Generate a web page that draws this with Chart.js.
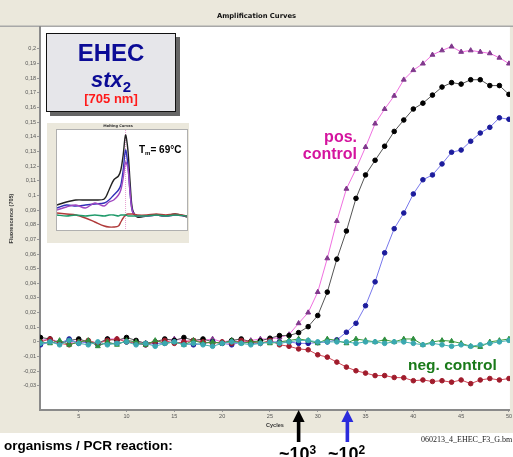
<!DOCTYPE html>
<html>
<head>
<meta charset="utf-8">
<script src="https://cdn.jsdelivr.net/npm/chart.js@4"></script>
<style>
  body { margin: 0; width: 513px; height: 457px; overflow: hidden; position: relative; background: #fff; font-family: "Liberation Sans", Arial, sans-serif; }
  #main { position: absolute; left: 0; top: 0; }
  .txt { position: absolute; white-space: nowrap; font-weight: bold; }
  #title { position: absolute; left: 0; width: 513px; top: 12px; text-align: center; font: bold 6.8px "DejaVu Sans"; line-height: 8px; color: #111; }
  #box { position: absolute; left: 46px; top: 33px; width: 128px; height: 77px; border: 1.5px solid #111; background: #e6e6ea; box-shadow: 4px 4px 0 #666; }
  #box div { position: absolute; left: 0; width: 100%; text-align: center; font-weight: bold; white-space: nowrap; }
  #inset { position: absolute; left: 47px; top: 123px; width: 142px; height: 120px; }
</style>
</head>
<body>
<canvas id="main" width="513" height="457"></canvas>
<div id="title">Amplification Curves</div>

<div id="box">
  <div style="top:7px; font-size:24px; line-height:24px; color:#0b0b96;">EHEC</div>
  <div style="top:35px; font-size:22px; line-height:22px; color:#0b0b96; font-style:italic;">stx<span style="font-size:15px; position:relative; top:5px; font-style:normal;">2</span></div>
  <div style="top:58px; font-size:13px; line-height:13px; color:#ff1a1a;">[705 nm]</div>
</div>

<div id="inset">
  <canvas id="melt" width="142" height="120"></canvas>
  <div style="position:absolute; left:0; width:142px; top:1px; text-align:center; font:bold 3.5px 'DejaVu Sans'; color:#333;">Melting Curves</div>
</div>
<div class="txt" style="left:139px; top:144px; font-size:10px; line-height:12px; color:#000;">T<span style="font-size:6px; position:relative; top:2px;">m</span>= 69°C</div>

<div class="txt" style="right:156px; top:128px; font-size:16px; line-height:17px; color:#d4149e; text-align:right;">pos.<br>control</div>
<div class="txt" style="left:408px; top:357px; font-size:15.5px; line-height:16px; color:#1a7a1a;">neg. control</div>

<div class="txt" style="left:4px; top:439px; font-size:13.5px; line-height:14px; color:#000;">organisms / PCR reaction:</div>
<div class="txt" style="left:279px; top:445px; font-size:18px; line-height:18px; color:#000;">~10<span style="font-size:12px; position:relative; top:-6px;">3</span></div>
<div class="txt" style="left:328px; top:445px; font-size:18px; line-height:18px; color:#000;">~10<span style="font-size:12px; position:relative; top:-6px;">2</span></div>
<div class="txt" style="left:421px; top:435px; font:8px 'Liberation Serif'; color:#222;">060213_4_EHEC_F3_G.bm</div>

<script>
// cycles 1..50
const cycles = [1,2,3,4,5,6,7,8,9,10,11,12,13,14,15,16,17,18,19,20,21,22,23,24,25,26,27,28,29,30,31,32,33,34,35,36,37,38,39,40,41,42,43,44,45,46,47,48,49,50];

const posControl = [0.001,0.002,0.000,-0.001,0.001,0.000,-0.001,0.002,0.002,0.001,0.000,-0.001,0.000,0.001,0.002,0.001,0.000,0.001,0.002,0.000,0.001,0.000,0.001,0.002,0.002,0.003,
  0.005,0.0127,0.020,0.034,0.057,0.0825,0.1045,0.118,0.133,0.149,0.159,0.168,0.179,0.1855,0.190,0.196,0.199,0.2016,0.198,0.199,0.198,0.197,0.194,0.190];

const sample1e3 = [0.003,0.002,-0.001,0.001,0.002,0.000,-0.001,0.002,0.001,0.003,0.001,-0.001,0.000,0.002,0.001,0.003,0.001,0.002,0.000,-0.001,0.001,0.002,0.000,
  0.0007,0.0025,0.0043,0.0043,0.0063,0.0104,0.018,0.034,0.0565,0.0757,0.098,0.114,0.124,0.1336,0.1437,0.1515,0.159,0.163,0.1685,0.174,0.177,0.176,0.179,0.179,0.175,0.175,0.169];

const sample1e2 = [-0.002,0.000,-0.001,0.002,-0.001,0.000,-0.002,-0.001,-0.001,0.000,-0.001,-0.002,-0.001,-0.001,0.000,-0.001,-0.002,-0.001,0.000,-0.001,-0.002,0.000,-0.001,-0.001,0.000,0.000,0.000,-0.001,-0.001,
  -0.0005,0.0,0.0014,0.0066,0.0127,0.0247,0.041,0.0608,0.0773,0.088,0.101,0.1107,0.114,0.1215,0.1295,0.131,0.137,0.1426,0.1465,0.153,0.152];

const redSample = [0.000,0.002,-0.001,-0.002,0.000,0.001,-0.001,0.001,0.002,0.000,-0.001,-0.002,0.000,0.001,-0.001,0.000,0.001,0.000,-0.001,0.000,-0.001,0.001,0.000,-0.001,0.001,-0.002,
  -0.003,-0.0048,-0.0054,-0.0088,-0.0104,-0.0138,-0.0172,-0.0197,-0.0213,-0.023,-0.023,-0.0243,-0.0245,-0.0265,-0.026,-0.027,-0.0265,-0.0275,-0.026,-0.0285,-0.026,-0.025,-0.026,-0.025];

const tealSample = [-0.001,0.000,-0.002,0.001,-0.001,-0.002,0.000,-0.002,-0.001,0.000,-0.002,-0.001,-0.003,-0.001,0.000,-0.002,-0.001,-0.002,-0.003,-0.001,0.000,-0.001,-0.002,-0.001,0.000,
  -0.001,0.000,0.001,0.001,0.000,0.000,0.000,0.000,-0.001,0.000,0.000,-0.001,0.000,0.000,-0.001,-0.002,-0.001,-0.002,-0.003,-0.002,-0.003,-0.002,-0.001,0.000,0.001];

const negControl = [0.000,-0.001,0.001,-0.002,0.000,0.001,-0.003,0.000,-0.002,0.001,0.000,-0.002,0.001,-0.001,0.000,-0.002,0.001,-0.001,0.000,-0.001,0.001,-0.001,0.000,0.000,-0.001,
  0.000,0.001,0.002,0.001,-0.001,0.002,0.001,-0.001,0.002,0.001,0.000,0.0015,0.000,0.002,0.002,-0.002,0.000,0.001,0.0005,-0.001,-0.003,-0.0035,0.000,0.001,0.002];

const yTicks = [0.2,0.19,0.18,0.17,0.16,0.15,0.14,0.13,0.12,0.11,0.1,0.09,0.08,0.07,0.06,0.05,0.04,0.03,0.02,0.01,0,-0.01,-0.02,-0.03];
const xTicks = [5,10,15,20,25,30,35,40,45,50];

// arrows under the x axis: Ct of the two dilutions
const arrowCycles = [28.0, 33.1];
const arrowColors = ["#000000", "#2b2bdc"];

// inset: melting curves
const meltTemps = [40,44,48,52,56,60,62,64,66,67,68,69,70,71,72,74,78,82,86,90,95];
const meltBlack = [0.25,0.28,0.30,0.30,0.30,0.31,0.40,0.50,0.54,0.60,0.75,0.95,0.80,0.45,0.20,0.13,0.14,0.15,0.14,0.16,0.13];
const meltBlue = [0.22,0.25,0.24,0.25,0.26,0.27,0.30,0.35,0.40,0.45,0.60,0.80,0.65,0.35,0.18,0.14,0.14,0.15,0.14,0.15,0.14];
const meltPurple = [0.20,0.23,0.25,0.22,0.27,0.24,0.28,0.30,0.35,0.40,0.52,0.68,0.62,0.35,0.18,0.14,0.14,0.15,0.14,0.15,0.14];
const meltGreen = [0.15,0.14,0.15,0.14,0.15,0.14,0.15,0.15,0.14,0.15,0.15,0.15,0.14,0.14,0.14,0.14,0.14,0.15,0.14,0.15,0.14];
const meltRed = [0.17,0.16,0.15,0.12,0.08,0.04,0.03,0.03,0.04,0.08,0.12,0.15,0.16,0.16,0.16,0.15,0.15,0.16,0.15,0.16,0.14];
const meltTm = 69;

function pts(xs, ys) {
  return xs.map((x, i) => ({ x: x, y: ys[i] }));
}

function series(label, values, line, marker, style) {
  return {
    label: label,
    data: pts(cycles, values),
    borderColor: line,
    borderWidth: 1,
    pointBackgroundColor: marker,
    pointBorderColor: marker,
    pointBorderWidth: 1,
    pointStyle: style,
    pointRadius: style === "triangle" ? 2.8 : 2.3,
    tension: 0
  };
}

const backdrop = {
  id: "backdrop",
  beforeDraw(chart) {
    const ctx = chart.ctx, a = chart.chartArea;
    ctx.save();
    ctx.fillStyle = "#ebe8dc";
    ctx.fillRect(0, 0, chart.width, 433);
    ctx.fillStyle = "#ffffff";
    ctx.fillRect(0, 433, chart.width, chart.height - 433);
    ctx.fillRect(a.left, a.top, a.right - a.left, a.bottom - a.top);
    ctx.fillStyle = "#a8a8a8";
    ctx.fillRect(0, a.top - 1.5, chart.width, 1.5);
    ctx.restore();
  }
};

const arrows = {
  id: "arrows",
  afterDraw(chart) {
    const ctx = chart.ctx, xs = chart.scales.x;
    ctx.save();
    arrowCycles.forEach((c, i) => {
      const x = xs.getPixelForValue(c);
      ctx.fillStyle = arrowColors[i];
      ctx.beginPath();
      ctx.moveTo(x, 410);
      ctx.lineTo(x - 6, 422);
      ctx.lineTo(x + 6, 422);
      ctx.closePath();
      ctx.fill();
      ctx.fillRect(x - 1.8, 421, 3.6, 21);
    });
    ctx.restore();
  }
};

new Chart(document.getElementById("main"), {
  type: "line",
  data: {
    datasets: [
      series("teal", tealSample, "#49b3b3", "#3aa8b0", "circle"),
      series("neg. control", negControl, "#3c9c3c", "#2f8f3f", "triangle"),
      series("red", redSample, "#d04858", "#a01c2c", "circle"),
      series("~10^2", sample1e2, "#7878ec", "#1c1c9c", "circle"),
      series("~10^3", sample1e3, "#555555", "#000000", "circle"),
      series("pos. control", posControl, "#f070e0", "#80388c", "triangle")
    ]
  },
  options: {
    responsive: false,
    animation: false,
    layout: { autoPadding: false, padding: { left: 8, top: 27, right: 0, bottom: 27 } },
    plugins: { legend: { display: false }, tooltip: { enabled: false } },
    scales: {
      x: {
        type: "linear",
        min: 0.95,
        max: 50.1,
        afterFit(s) { s.height = 20; },
        afterBuildTicks(s) { s.ticks = xTicks.map(v => ({ value: v })); },
        grid: { display: true, drawOnChartArea: false, tickLength: 2, color: "#999" },
        border: { display: true, color: "#8a8a8a", width: 2 },
        ticks: { autoSkip: false, maxRotation: 0, padding: 1, color: "#555", font: { size: 5.5, family: "Liberation Sans" } },
        title: { display: true, text: "Cycles", color: "#333", padding: { top: 0, bottom: 1 }, font: { size: 5.5, weight: "bold", family: "Liberation Sans" } }
      },
      y: {
        min: -0.0465,
        max: 0.215,
        afterFit(s) { s.width = 32; },
        afterBuildTicks(s) { s.ticks = yTicks.map(v => ({ value: v })); },
        grid: { display: true, drawOnChartArea: false, tickLength: 3, color: "#999" },
        border: { display: true, color: "#8a8a8a", width: 2 },
        ticks: {
          padding: 1, color: "#555", font: { size: 5.5, family: "Liberation Sans" },
          callback: v => String(Math.round(v * 100) / 100).replace(".", ",")
        },
        title: { display: true, text: "Fluorescence (705)", color: "#333", padding: 0, font: { size: 5.5, weight: "bold", family: "Liberation Sans" } }
      }
    }
  },
  plugins: [backdrop, arrows]
});

// inset chart
const meltBack = {
  id: "meltBack",
  beforeDraw(chart) {
    const ctx = chart.ctx, a = chart.chartArea;
    ctx.save();
    ctx.fillStyle = "#ebe8dc";
    ctx.fillRect(0, 0, chart.width, chart.height);
    ctx.fillStyle = "#ffffff";
    ctx.fillRect(a.left, a.top, a.right - a.left, a.bottom - a.top);
    ctx.strokeStyle = "#b0b0b0";
    ctx.lineWidth = 1;
    ctx.strokeRect(a.left - 0.5, a.top - 0.5, a.right - a.left + 1, a.bottom - a.top + 1);
    const x = chart.scales.x.getPixelForValue(meltTm);
    ctx.strokeStyle = "#e8a0d0";
    ctx.setLineDash([1, 1]);
    ctx.beginPath();
    ctx.moveTo(x, a.top);
    ctx.lineTo(x, a.bottom);
    ctx.stroke();
    ctx.restore();
  }
};

function meltLine(values, color) {
  return { data: pts(meltTemps, values), borderColor: color, borderWidth: 1.4, pointRadius: 0, tension: 0.3 };
}

new Chart(document.getElementById("melt"), {
  type: "line",
  data: {
    datasets: [
      meltLine(meltGreen, "#1f9a6a"),
      meltLine(meltRed, "#b03a3a"),
      meltLine(meltPurple, "#a048c0"),
      meltLine(meltBlue, "#3030b8"),
      meltLine(meltBlack, "#222222")
    ]
  },
  options: {
    responsive: false,
    animation: false,
    layout: { autoPadding: false, padding: { left: 10, top: 7, right: 2, bottom: 13 } },
    plugins: { legend: { display: false }, tooltip: { enabled: false } },
    scales: {
      x: { type: "linear", min: 40, max: 95, display: false },
      y: { min: 0, max: 1, display: false }
    }
  },
  plugins: [meltBack]
});
</script>
</body>
</html>
